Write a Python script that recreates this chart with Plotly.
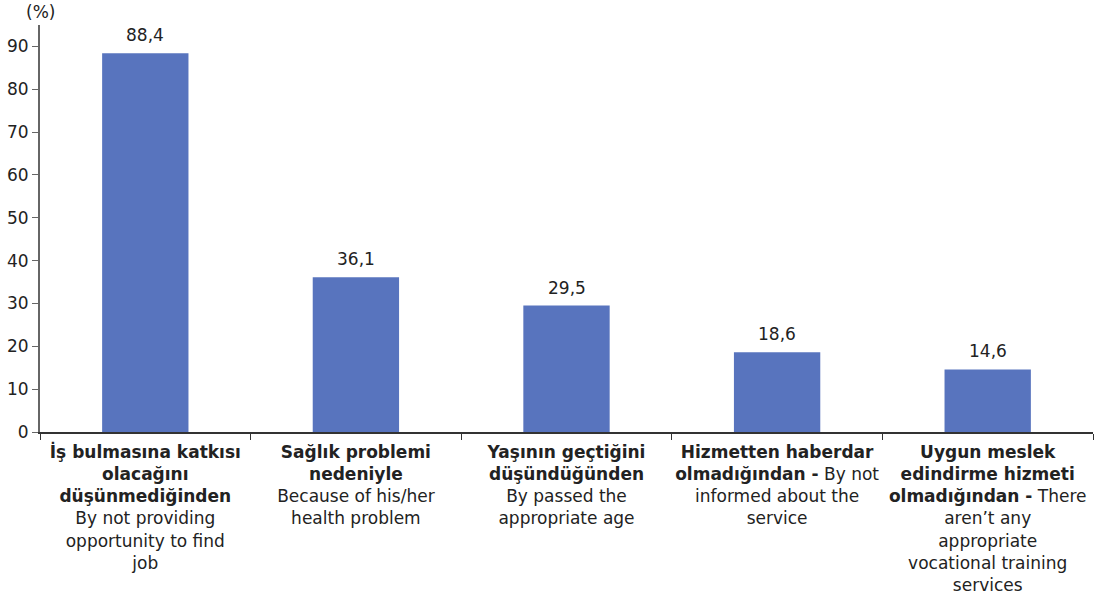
import plotly.graph_objects as go

categories = [
    "<b>İş bulmasına katkısı<br>olacağını<br>düşünmediğinden</b><br>By not providing<br>opportunity to find<br>job",
    "<b>Sağlık problemi<br>nedeniyle</b><br>Because of his/her<br>health problem",
    "<b>Yaşının geçtiğini<br>düşündüğünden</b><br>By passed the<br>appropriate age",
    "<b>Hizmetten haberdar<br>olmadığından -</b> By not<br>informed about the<br>service",
    "<b>Uygun meslek<br>edindirme hizmeti<br>olmadığından -</b> There<br>aren’t any<br>appropriate<br>vocational training<br>services",
]
values = [88.4, 36.1, 29.5, 18.6, 14.6]
value_labels = [f"{v:.1f}".replace(".", ",") for v in values]
y_ticks = [0, 10, 20, 30, 40, 50, 60, 70, 80, 90]

font_family = "DejaVu Sans, Verdana, sans-serif"
text_color = "#222222"

fig = go.Figure(
    go.Bar(
        x=categories,
        y=values,
        marker=dict(color="#5874BE", line=dict(width=0)),
        hoverinfo="skip",
    )
)

for cat, val, lab in zip(categories, values, value_labels):
    fig.add_annotation(
        x=cat,
        y=val,
        text=lab,
        showarrow=False,
        xanchor="center",
        yanchor="bottom",
        yshift=6,
        font=dict(size=17, family=font_family, color=text_color),
    )

fig.update_layout(
    width=1102,
    height=602,
    margin=dict(l=40, r=9, t=25, b=170),
    plot_bgcolor="white",
    paper_bgcolor="white",
    bargap=0.59,
    showlegend=False,
    font=dict(family=font_family, size=17, color=text_color),
)

fig.update_xaxes(
    type="category",
    tickson="boundaries",
    ticks="outside",
    ticklen=6,
    tickcolor="#333333",
    tickangle=0,
    showline=True,
    linecolor="#333333",
    linewidth=1.5,
    showgrid=False,
    automargin=False,
    ticklabelstandoff=4,
    tickfont=dict(size=17, family=font_family, color=text_color),
)

fig.update_yaxes(
    range=[0, 95],
    tickvals=y_ticks,
    ticks="outside",
    ticklen=6,
    tickcolor="#666666",
    showline=True,
    linecolor="#666666",
    linewidth=2,
    showgrid=False,
    zeroline=False,
    automargin=False,
    tickfont=dict(size=17, family=font_family, color=text_color),
)

fig.add_annotation(
    text="(%)",
    xref="paper",
    yref="paper",
    x=0.0,
    y=1.0,
    yshift=13,
    xanchor="center",
    yanchor="middle",
    showarrow=False,
    font=dict(size=17, family=font_family, color=text_color),
)

fig.write_html(
    "out.html",
    config={"displayModeBar": False},
    post_script="document.body.style.margin='0px';document.body.style.overflow='hidden';",
)
